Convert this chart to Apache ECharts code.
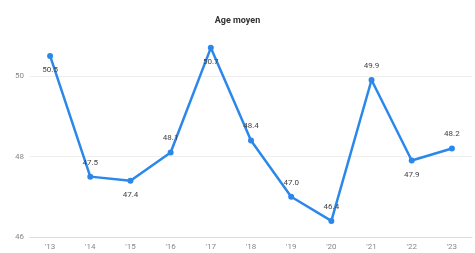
<!DOCTYPE html>
<html>
<head>
<meta charset="utf-8">
<script src="https://cdn.jsdelivr.net/npm/echarts@6/dist/echarts.min.js"></script>
<style>
  html, body { margin: 0; padding: 0; background: #fff; }
  #chart { width: 475px; height: 253px; }
</style>
</head>
<body>
<div id="chart"></div>
<script>
var years = ["'13", "'14", "'15", "'16", "'17", "'18", "'19", "'20", "'21", "'22", "'23"];
var ageMoyen = [50.5, 47.5, 47.4, 48.1, 50.7, 48.4, 47.0, 46.4, 49.9, 47.9, 48.2];
// where each value label sits relative to its point
var labelPos = ["bottom", "top", "bottom", "top", "bottom", "top", "top", "top", "top", "bottom", "top"];

var chart = echarts.init(document.getElementById("chart"));

chart.setOption({
  animation: false,
  title: {
    text: "Age moyen",
    left: "center",
    top: 11,
    textStyle: { fontSize: 9, fontWeight: "bold", color: "#333", fontFamily: "Roboto" }
  },
  grid: { left: 30, right: 3, top: 76, bottom: 16 },
  xAxis: {
    type: "category",
    data: years,
    boundaryGap: true,
    axisLine: { lineStyle: { color: "#ddd" } },
    axisTick: { show: false },
    axisLabel: { color: "#888", fontSize: 8, margin: 6, fontFamily: "Roboto" }
  },
  yAxis: {
    type: "value",
    min: 46,
    max: 50,
    interval: 2,
    axisLabel: { color: "#888", fontSize: 8, margin: 6, fontFamily: "Roboto" },
    splitLine: { lineStyle: { color: "#eee" } }
  },
  series: [
    {
      type: "line",
      clip: false,
      data: ageMoyen.map(function (v, i) {
        return { value: v, label: { position: labelPos[i] } };
      }),
      symbol: "circle",
      symbolSize: 6,
      lineStyle: { color: "#2b88ea", width: 2.5 },
      itemStyle: { color: "#2b88ea" },
      label: {
        show: true,
        fontSize: 8,
        color: "#444",
        distance: 7,
        fontFamily: "Roboto",
        formatter: function (p) { return p.value.toFixed(1); }
      }
    }
  ]
});
</script>
</body>
</html>
